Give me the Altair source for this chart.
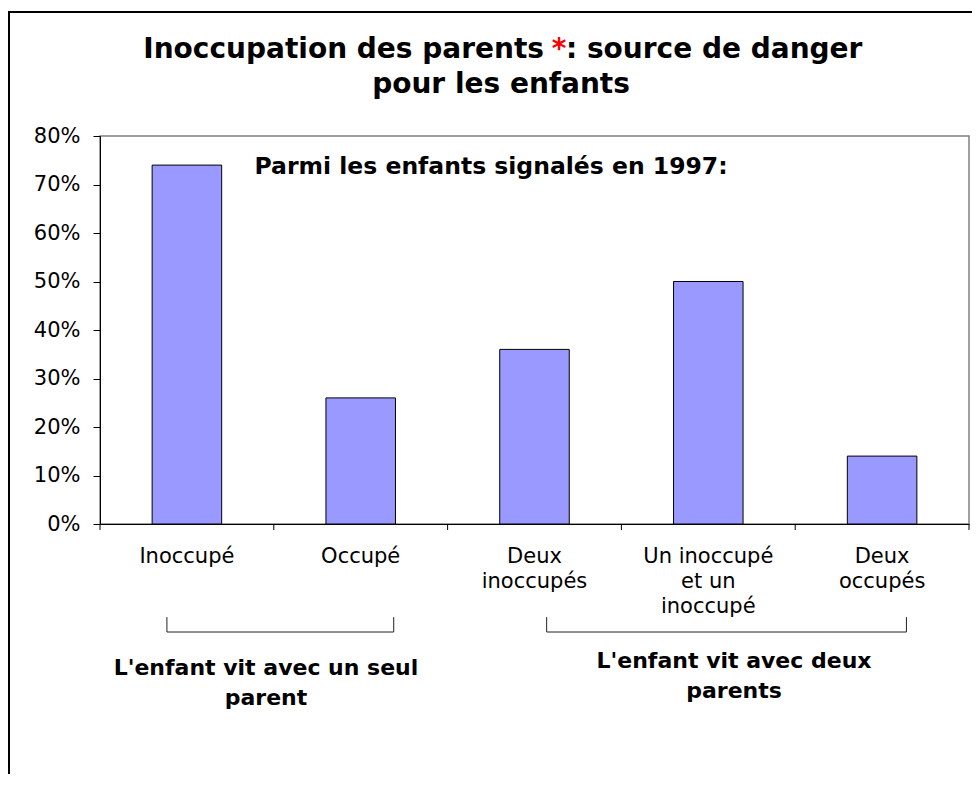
import altair as alt
import pandas as pd

# ---- data ----
categories = ["Inoccupé", "Occupé", "Deux\ninoccupés", "Un inoccupé\net un\ninoccupé", "Deux\noccupés"]
shares = [0.74, 0.26, 0.36, 0.50, 0.14]
y_ticks = [0.0, 0.1, 0.2, 0.3, 0.4, 0.5, 0.6, 0.7, 0.8]

title_line1 = ["Inoccupation des parents", "*", ": source de danger"]
title_line2 = "pour les enfants"
subtitle = "Parmi les enfants signalés en 1997:"
subtitle_pos = [2.25, 0.736]          # category units, share units

group_labels = ["L'enfant vit avec un seul\nparent", "L'enfant vit avec deux\nparents"]
group_centers = [0.955, 3.648]        # category units
group_baselines = [-0.311, -0.297]    # share units (below the axis)
bracket_starts = [0.385, 2.57]
bracket_ends = [1.69, 4.64]
bracket_top = -0.192
bracket_bottom = -0.2227
x_tick_bounds = list(range(len(categories) + 1))   # category boundaries
x_tick_len = -0.0124                                # ~6px below the axis

FONT = "DejaVu Sans"
W, H = 869, 388

bars_df = pd.DataFrame({"cat": categories, "share": shares})

seg_rows = []
for s, e in zip(bracket_starts, bracket_ends):
    seg_rows.append({"x": s, "x2": e, "y": bracket_bottom, "y2": bracket_bottom})
    seg_rows.append({"x": s, "x2": s, "y": bracket_top, "y2": bracket_bottom})
    seg_rows.append({"x": e, "x2": e, "y": bracket_top, "y2": bracket_bottom})
seg_df = pd.DataFrame(seg_rows)
tick_df = pd.DataFrame({"x": x_tick_bounds, "y": [0.0] * len(x_tick_bounds),
                        "y2": [x_tick_len] * len(x_tick_bounds)})

grp_df = pd.DataFrame({"x": group_centers, "y": group_baselines, "t": group_labels})
sub_df = pd.DataFrame({"x": [subtitle_pos[0]], "y": [subtitle_pos[1]], "t": [subtitle]})
one = pd.DataFrame({"a": [0]})

xq = alt.Scale(domain=[0, 5])
yscale = alt.Scale(domain=[0, 0.8])

bars = alt.Chart(bars_df).mark_bar(fill="#9999FF", stroke="black", strokeWidth=1).encode(
    x=alt.X("cat:N", sort=categories, title=None,
            scale=alt.Scale(paddingInner=0.6, paddingOuter=0.3),
            axis=alt.Axis(labelAngle=0, labelFont=FONT, labelFontSize=21, labelColor="black",
                          labelExpr="split(datum.label, '\\n')", labelLineHeight=25,
                          labelBaseline="top", labelPadding=21,
                          ticks=False, domain=True,
                          domainColor="black", labelLimit=300)),
    y=alt.Y("share:Q", scale=yscale, title=None,
            axis=alt.Axis(values=y_ticks, format=".0%", labelFont=FONT, labelFontSize=21,
                          labelColor="black", ticks=True, tickColor="black", tickSize=7,
                          labelPadding=13, domain=True,
                          domainColor="black", grid=False)),
)

xticks = alt.Chart(tick_df).mark_rule(color="black", strokeWidth=1).encode(
    x=alt.X("x:Q", scale=xq, axis=None),
    y=alt.Y("y:Q", scale=yscale, axis=None), y2="y2:Q",
)

brackets = alt.Chart(seg_df).mark_rule(color="#222222", strokeWidth=1).encode(
    x=alt.X("x:Q", scale=xq, axis=None), x2="x2:Q",
    y=alt.Y("y:Q", scale=yscale, axis=None), y2="y2:Q",
)

groups = alt.Chart(grp_df).mark_text(font=FONT, fontSize=22, fontWeight="bold", color="black",
                                     align="center", baseline="alphabetic",
                                     lineBreak="\n", lineHeight=30).encode(
    x=alt.X("x:Q", scale=xq, axis=None),
    y=alt.Y("y:Q", scale=yscale, axis=None),
    text="t:N",
)

sub = alt.Chart(sub_df).mark_text(font=FONT, fontSize=23.5, fontWeight="bold", color="black",
                                  align="center", baseline="middle").encode(
    x=alt.X("x:Q", scale=xq, axis=None),
    y=alt.Y("y:Q", scale=yscale, axis=None),
    text="t:N",
)

TS = 28
t1a = alt.Chart(one).mark_text(font=FONT, fontSize=TS, fontWeight="bold", color="black",
                               align="right", baseline="alphabetic").encode(
    x=alt.value(444), y=alt.value(-78), text=alt.value(title_line1[0]))
t1b = alt.Chart(one).mark_text(font=FONT, fontSize=TS, fontWeight="bold", color="#FF0000",
                               align="center", baseline="alphabetic").encode(
    x=alt.value(459), y=alt.value(-78), text=alt.value(title_line1[1]))
t1c = alt.Chart(one).mark_text(font=FONT, fontSize=TS, fontWeight="bold", color="black",
                               align="left", baseline="alphabetic").encode(
    x=alt.value(466), y=alt.value(-78), text=alt.value(title_line1[2]))
t2 = alt.Chart(one).mark_text(font=FONT, fontSize=TS, fontWeight="bold", color="black",
                              align="center", baseline="alphabetic").encode(
    x=alt.value(401), y=alt.value(-43), text=alt.value(title_line2))

frame_top = alt.Chart(one).mark_rule(color="black", strokeWidth=2).encode(
    x=alt.value(-92), x2=alt.value(880), y=alt.value(-124))
frame_left = alt.Chart(one).mark_rule(color="black", strokeWidth=2).encode(
    x=alt.value(-91), y=alt.value(-124), y2=alt.value(660))

chart = alt.layer(bars, xticks, brackets, groups, sub, t1a, t1b, t1c, t2, frame_top, frame_left).resolve_scale(
    x="independent"
).resolve_axis(
    x="independent", y="independent"
).properties(
    width=W, height=H,
    autosize=alt.AutoSizeParams(type="none"),
    padding={"left": 92, "top": 128, "right": 3, "bottom": 250},
    background="white",
).configure_view(stroke="#808080", strokeWidth=1.5)

chart.save("out.html", embed_options={"renderer": "svg", "actions": False})
